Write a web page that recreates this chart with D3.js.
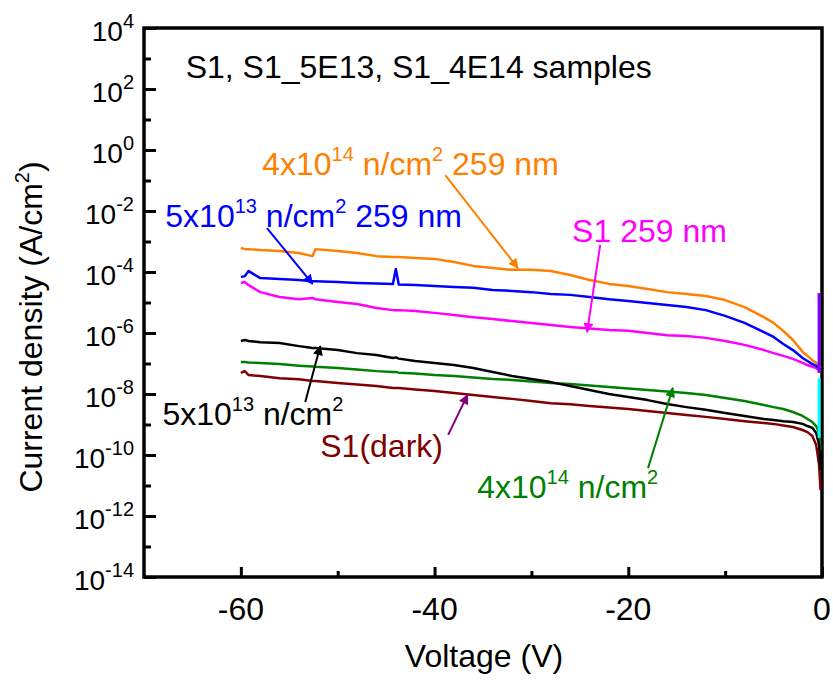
<!DOCTYPE html>
<html lang="en">
<head>
<meta charset="utf-8">
<title>Current density vs voltage</title>
<script src="https://cdn.jsdelivr.net/npm/d3@7"></script>
<style>
  body { margin: 0; background: #fff; }
  text { font-family: "Liberation Sans", Arial, sans-serif; white-space: pre; }
</style>
</head>
<body>
<script>
// voltage grid (V) shared by all curves
var voltage = [-60, -59.6, -59.2, -58, -56, -54, -52.6, -52.3, -50, -48, -46, -44.3, -44, -43.7,
  -42, -40, -38, -36, -34, -32, -30, -28, -26, -24, -22, -20, -18, -16, -14, -12, -10, -8, -6,
  -5, -4, -3, -2, -1.5, -1, -0.6, -0.3, -0.15];

// log10 of current density (A/cm2)
var s1_4e14_uv = [-3.21, -3.25, -3.25, -3.28, -3.31, -3.38, -3.48, -3.25, -3.31, -3.38, -3.48, -3.51, -3.51, -3.51,
  -3.54, -3.57, -3.67, -3.80, -3.87, -3.93, -3.93, -3.97, -4.10, -4.26, -4.39, -4.46, -4.56, -4.66, -4.72, -4.79, -4.92, -5.15, -5.48,
  -5.67, -5.93, -6.23, -6.62, -6.75, -6.89, -6.98, -7.08, -7.15];
var s1_5e13_uv = [-4.16, -4.14, -3.97, -4.20, -4.23, -4.26, -4.30, -4.30, -4.33, -4.36, -4.38, -4.39, -3.90, -4.41,
  -4.43, -4.46, -4.49, -4.52, -4.59, -4.62, -4.66, -4.72, -4.75, -4.82, -4.89, -4.95, -5.02, -5.08, -5.15, -5.25, -5.44, -5.67, -5.97,
  -6.13, -6.36, -6.56, -6.82, -6.92, -7.02, -7.08, -7.15, -7.18];
var s1_uv = [-4.36, -4.33, -4.43, -4.66, -4.82, -4.89, -4.85, -4.89, -4.98, -5.05, -5.18, -5.25, -5.25, -5.25,
  -5.28, -5.34, -5.41, -5.48, -5.54, -5.61, -5.67, -5.74, -5.80, -5.85, -5.90, -5.93, -6.00, -6.07, -6.10, -6.16, -6.26, -6.39, -6.56,
  -6.66, -6.75, -6.85, -6.98, -7.05, -7.11, -7.15, -7.21, -7.25];
var s1_5e13_dark = [-6.26, -6.23, -6.26, -6.30, -6.33, -6.43, -6.49, -6.49, -6.56, -6.66, -6.72, -6.82, -6.80, -6.84,
  -6.92, -6.98, -7.05, -7.15, -7.28, -7.41, -7.51, -7.61, -7.74, -7.87, -8.00, -8.10, -8.20, -8.33, -8.43, -8.52, -8.62, -8.72, -8.82,
  -8.85, -8.89, -8.92, -8.98, -9.05, -9.11, -9.28, -9.67, -10.49];
var s1_4e14_dark = [-6.95, -6.95, -6.97, -6.98, -7.02, -7.07, -7.10, -7.11, -7.15, -7.20, -7.25, -7.28, -7.28, -7.30,
  -7.33, -7.38, -7.41, -7.46, -7.51, -7.54, -7.59, -7.64, -7.67, -7.72, -7.77, -7.82, -7.87, -7.92, -7.97, -8.03, -8.13, -8.23, -8.36,
  -8.43, -8.49, -8.59, -8.72, -8.82, -8.92, -9.05, -9.28, -9.84];
var s1_dark = [-7.31, -7.25, -7.38, -7.41, -7.48, -7.52, -7.57, -7.57, -7.64, -7.69, -7.74, -7.80, -7.80, -7.80,
  -7.85, -7.90, -7.97, -8.03, -8.10, -8.16, -8.23, -8.30, -8.34, -8.39, -8.44, -8.49, -8.56, -8.62, -8.69, -8.75, -8.82, -8.89, -8.95,
  -8.98, -9.03, -9.08, -9.18, -9.25, -9.38, -9.67, -10.33, -11.15];

// short vertical drops sitting on the right axis (V ~ 0)
var edgeVoltage = [-0.3, -0.3];
var purpleEdge = [-4.69, -7.31];
var cyanEdge = [-7.48, -9.44];

var xTicks = [-60, -40, -20, 0];
var xMinor = [-50, -30, -10];
var yTickExp = [4, 2, 0, -2, -4, -6, -8, -10, -12, -14];
var yMinorExp = [3, 1, -1, -3, -5, -7, -9, -11, -13];

(function() {
  var w = 833, h = 682;
  var mLeft = 144, mRight = 822, mTop = 28, mBottom = 577;

  function p10(v) { return Math.pow(10, v); }

  var x = d3.scaleLinear().domain([-70, 0]).range([mLeft, mRight]);
  var y = d3.scaleLog().domain([1e-14, 1e4]).range([mBottom, mTop]);

  var svg = d3.select('body').append('svg')
    .attr('width', w)
    .attr('height', h);

  // arrow heads
  var defs = svg.append('defs');
  function marker(id, color) {
    defs.append('marker')
      .attr('id', id)
      .attr('viewBox', '0 0 10 10')
      .attr('refX', 9).attr('refY', 5)
      .attr('markerWidth', 15).attr('markerHeight', 10)
      .attr('markerUnits', 'userSpaceOnUse')
      .attr('orient', 'auto')
      .append('path').attr('d', 'M0,0 L10,5 L0,10 z').attr('fill', color);
  }

  // ticks (inward)
  var yAxis = svg.append('g').attr('transform', 'translate(' + mLeft + ',0)')
    .call(d3.axisLeft(y).tickValues(yTickExp.map(p10)).tickSize(-12).tickSizeOuter(0).tickFormat(''));
  var yAxisMinor = svg.append('g').attr('transform', 'translate(' + mLeft + ',0)')
    .call(d3.axisLeft(y).tickValues(yMinorExp.map(p10)).tickSize(-7).tickSizeOuter(0).tickFormat(''));
  var xAxis = svg.append('g').attr('transform', 'translate(0,' + mBottom + ')')
    .call(d3.axisBottom(x).tickValues(xTicks).tickSize(-10).tickSizeOuter(0).tickFormat(''));
  var xAxisMinor = svg.append('g').attr('transform', 'translate(0,' + mBottom + ')')
    .call(d3.axisBottom(x).tickValues(xMinor).tickSize(-6).tickSizeOuter(0).tickFormat(''));
  [yAxis, yAxisMinor, xAxis, xAxisMinor].forEach(function(g) {
    g.select('.domain').remove();
    g.selectAll('text').remove();
    g.selectAll('line').attr('stroke', '#000').attr('stroke-width', 3);
  });

  // y tick labels 10^n
  yTickExp.forEach(function(e) {
    var t = svg.append('text')
      .attr('x', mLeft - 10)
      .attr('y', y(p10(e)) + 13)
      .attr('text-anchor', 'end')
      .attr('font-size', 28);
    t.append('tspan').text('10');
    t.append('tspan').attr('font-size', 20).attr('dy', -13).text(String(e));
  });

  // x tick labels
  svg.selectAll('.xlab')
    .data(xTicks)
    .enter()
    .append('text')
    .attr('class', 'xlab')
    .attr('x', function(d) { return x(d); })
    .attr('y', mBottom + 43)
    .attr('text-anchor', 'middle')
    .attr('font-size', 32)
    .text(function(d) { return d; });

  // axis titles
  svg.append('text')
    .attr('x', 484).attr('y', 667)
    .attr('text-anchor', 'middle')
    .attr('font-size', 32)
    .text('Voltage (V)');

  var yt = svg.append('text')
    .attr('transform', 'translate(42,327) rotate(-90)')
    .attr('text-anchor', 'middle')
    .attr('font-size', 32);
  yt.append('tspan').text('Current density (A/cm');
  yt.append('tspan').attr('font-size', 20).attr('dy', -13).text('2');
  yt.append('tspan').attr('dy', 13).text(')');

  // frame
  svg.append('rect')
    .attr('x', mLeft).attr('y', mTop)
    .attr('width', mRight - mLeft).attr('height', mBottom - mTop)
    .attr('fill', 'none')
    .attr('stroke', '#000')
    .attr('stroke-width', 3.5);

  // curves
  var series = [
    { values: s1_dark, color: '#800000' },
    { values: s1_4e14_dark, color: '#008000' },
    { values: s1_5e13_dark, color: '#000000' },
    { values: s1_uv, color: '#FF00FF' },
    { values: s1_4e14_uv, color: '#FF8000' },
    { values: s1_5e13_uv, color: '#0000FF' }
  ];

  var line = d3.line()
    .x(function(d, i) { return x(voltage[i]); })
    .y(function(d) { return y(p10(d)); });

  svg.selectAll('.curve')
    .data(series)
    .enter()
    .append('path')
    .attr('class', 'curve')
    .attr('d', function(s) { return line(s.values); })
    .attr('fill', 'none')
    .attr('stroke', function(s) { return s.color; })
    .attr('stroke-width', 2.5)
    .attr('stroke-linejoin', 'round');

  var edgeLine = d3.line()
    .x(function(d, i) { return x(edgeVoltage[i]); })
    .y(function(d) { return y(p10(d)); });
  [[purpleEdge, '#8000FF'], [cyanEdge, '#00FFFF']].forEach(function(e) {
    svg.append('path')
      .attr('d', edgeLine(e[0]))
      .attr('fill', 'none')
      .attr('stroke', e[1])
      .attr('stroke-width', 3);
  });

  // annotation texts: [V, log10 J] anchor, parts with superscripts
  var notes = [
    { at: [-65.7, 2.36], color: '#000', parts: [['S1, S1_5E13, S1_4E14 samples']] },
    { at: [-57.8, -0.82], color: '#FF8000', parts: [['4x10'], ['14', 1], [' n/cm'], ['2', 1], [' 259 nm']] },
    { at: [-67.8, -2.52], color: '#0000FF', parts: [['5x10'], ['13', 1], [' n/cm'], ['2', 1], [' 259 nm']] },
    { at: [-25.8, -3.02], color: '#FF00FF', parts: [['S1 259 nm']] },
    { at: [-68.1, -9.02], color: '#000', parts: [['5x10'], ['13', 1], [' n/cm'], ['2', 1]] },
    { at: [-51.8, -10.07], color: '#800000', parts: [['S1(dark)']] },
    { at: [-35.6, -11.41], color: '#008000', parts: [['4x10'], ['14', 1], [' n/cm'], ['2', 1]] }
  ];
  notes.forEach(function(n) {
    var t = svg.append('text')
      .attr('x', x(n.at[0]))
      .attr('y', y(p10(n.at[1])))
      .attr('font-size', 32)
      .attr('fill', n.color);
    var raised = false;
    n.parts.forEach(function(p) {
      var ts = t.append('tspan').text(p[0]);
      if (p[1]) {
        ts.attr('font-size', 20);
        if (!raised) { ts.attr('dy', -14); raised = true; }
      } else if (raised) { ts.attr('dy', 14); raised = false; }
    });
  });

  // arrows: from [V, logJ] to [V, logJ]
  var arrows = [
    { from: [-38.9, -0.82], to: [-31.4, -3.87], color: '#FF8000' },
    { from: [-57.3, -2.56], to: [-52.6, -4.39], color: '#0000FF' },
    { from: [-22.9, -3.11], to: [-24.25, -5.97], color: '#FF00FF' },
    { from: [-53.35, -8.26], to: [-51.8, -6.43], color: '#000000' },
    { from: [-38.6, -9.34], to: [-36.6, -8.03], color: '#800080' },
    { from: [-17.96, -10.43], to: [-15.4, -7.80], color: '#008000' }
  ];
  arrows.forEach(function(a, i) {
    marker('ah' + i, a.color);
    svg.append('line')
      .attr('x1', x(a.from[0])).attr('y1', y(p10(a.from[1])))
      .attr('x2', x(a.to[0])).attr('y2', y(p10(a.to[1])))
      .attr('stroke', a.color)
      .attr('stroke-width', 2)
      .attr('marker-end', 'url(#ah' + i + ')');
  });
})();
</script>
</body>
</html>
